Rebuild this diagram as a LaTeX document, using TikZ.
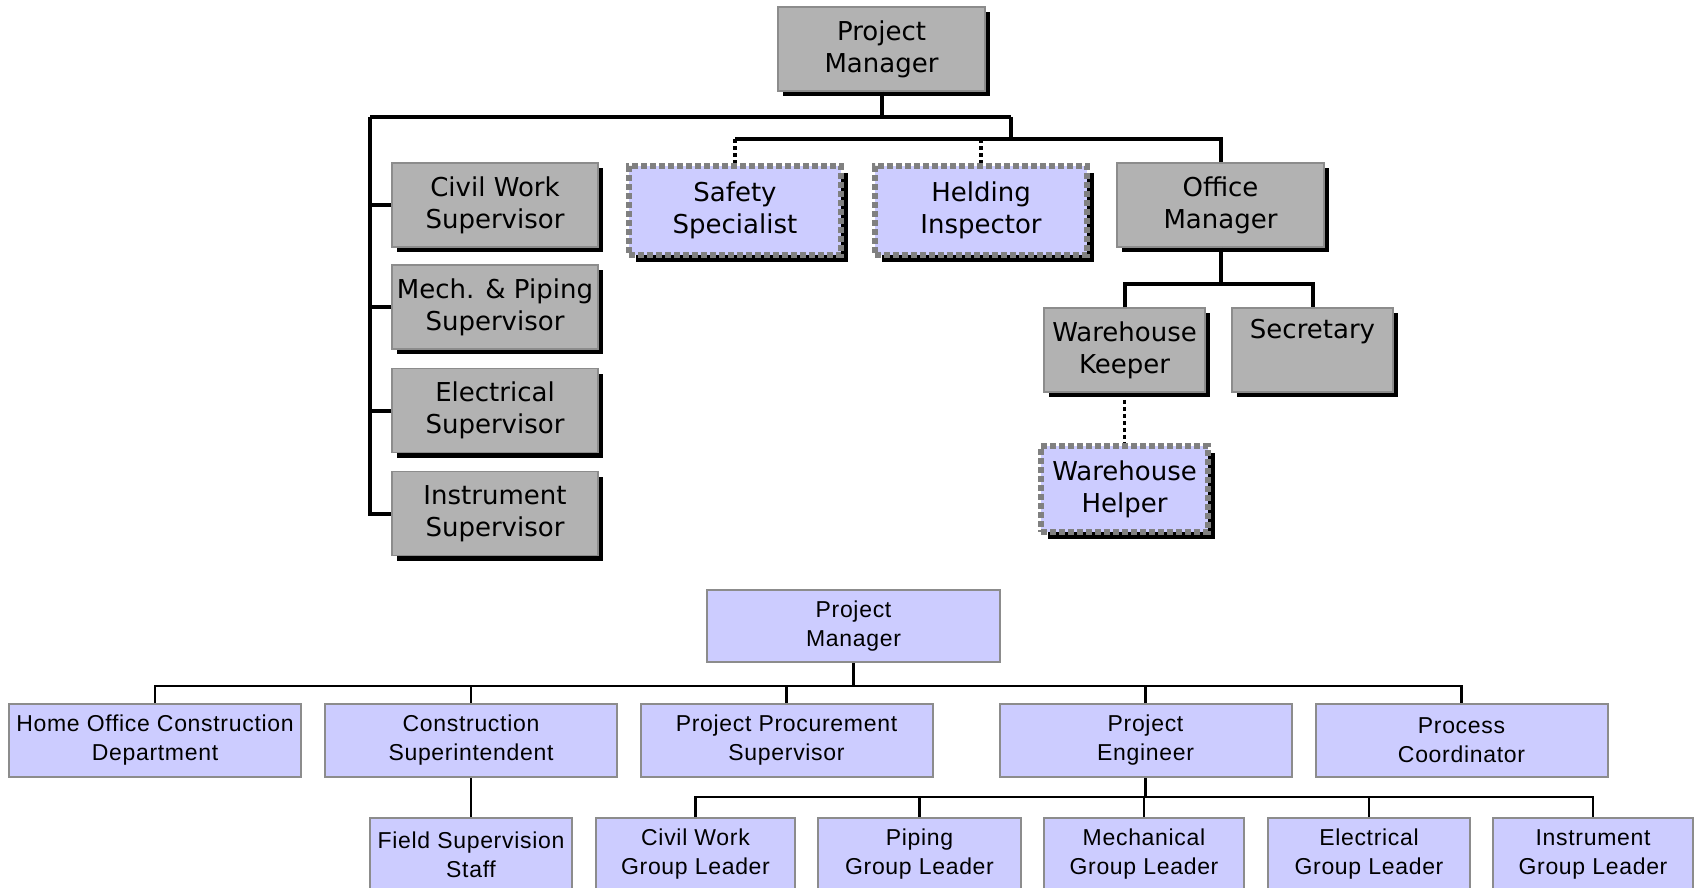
\documentclass[tikz,border=0pt]{standalone}
\usepackage{fontspec}
\setmainfont{DejaVu Sans}
\newfontfamily\lib[LetterSpace=3]{Liberation Sans}
\usetikzlibrary{shadows}
\definecolor{boxgray}{RGB}{178,178,178}
\definecolor{edgegray}{RGB}{140,140,140}
\definecolor{lav}{RGB}{204,204,255}
\definecolor{dashgray}{RGB}{128,128,128}
\begin{document}
\begin{tikzpicture}[x=1pt,y=-1pt,
  topbox/.style={rectangle, inner sep=0pt, align=center,
    font=\fontsize{26}{32}\selectfont},
  gbox/.style={topbox, fill=boxgray, draw=edgegray, line width=1.5pt,
    minimum width=207pt, minimum height=84pt,
    drop shadow={shadow xshift=5pt, shadow yshift=-5pt, fill=black, opacity=1}},
  lbox/.style={topbox, fill=lav, draw=dashgray, line width=6pt,
    dash pattern=on 6pt off 3pt,
    preaction={draw=white, line width=9pt, solid},
    drop shadow={shadow xshift=7pt, shadow yshift=-7pt, fill=black, opacity=1}},
  conn/.style={line width=4pt, black},
  dotc/.style={line width=3.5pt, black, dash pattern=on 4pt off 3pt},
  bbox/.style={rectangle, fill=lav, draw=edgegray, line width=2pt,
    inner sep=0pt, align=center, minimum height=73pt,
    font=\lib\fontsize{23}{29}\selectfont},
  bconn/.style={line width=2.5pt, black}]
\useasboundingbox (0,0) rectangle (1696,888);
\clip (0,0) rectangle (1696,888);

% ---------- top chart ----------
\node[gbox] (pm) at (881.5,49) {Project\\Manager};
\node[gbox, minimum width=206pt] (civ) at (495,205) {Civil Work\\Supervisor};
\node[gbox, minimum width=206pt] (mech) at (495,307) {Mech. \& Piping\\Supervisor};
\node[gbox, minimum width=206pt] (elec) at (495,410.5) {Electrical\\Supervisor};
\node[gbox, minimum width=206pt] (ins) at (495,513.5) {Instrument\\Supervisor};
\node[lbox, minimum width=212pt, minimum height=89pt] (saf) at (735,210.5) {Safety\\Specialist};
\node[lbox, minimum width=212pt, minimum height=89pt] (hel) at (981,210.5) {Helding\\Inspector};
\node[gbox] (om) at (1220.5,205) {Office\\Manager};
\node[gbox, minimum width=161pt] (wk) at (1124.5,350) {Warehouse\\Keeper};
\node[gbox, minimum width=161pt] (sec) at (1312.5,350) {Secretary\\\strut};
\node[lbox, minimum width=167pt, minimum height=86pt] (wh) at (1124.5,489) {Warehouse\\Helper};

\coordinate (b1) at (881.5,117);
\coordinate (lt) at (370,117);
\coordinate (rt) at (1011,117);
\coordinate (r2) at (1011,139);
\coordinate (ob) at (1220.5,284);

\draw[conn] (pm.south) -- (b1);
\draw[conn] (lt) -- (rt);
\draw[conn] (lt) |- (ins.west);
\draw[conn] (civ.west) -- (civ.west -| lt);
\draw[conn] (mech.west) -- (mech.west -| lt);
\draw[conn] (elec.west) -- (elec.west -| lt);
\draw[conn] (rt) -- (r2);
\draw[conn] (saf.north |- r2) -| (om.north);
\draw[dotc] (saf.north |- r2) -- (saf.north);
\draw[dotc] (hel.north |- r2) -- (hel.north);
\draw[conn] (om.south) -- (ob);
\draw[conn] (wk.north) |- (ob) -| (sec.north);
\draw[dotc] (wk.south) -- (wh.north);

% ---------- bottom chart ----------
\node[bbox, minimum width=293pt, minimum height=72pt] (pm2) at (853.5,626) {Project\\Manager};
\node[bbox, minimum width=292pt] (home) at (155,740.5) {Home Office Construction\\Department};
\node[bbox, minimum width=292pt] (con) at (471,740.5) {Construction\\Superintendent};
\node[bbox, minimum width=292pt] (proc) at (786.5,740.5) {Project Procurement\\Supervisor};
\node[bbox, minimum width=292pt] (pe) at (1145.5,740.5) {Project\\Engineer};
\node[bbox, minimum width=292pt] (pc) at (1461.5,740.5) {Process\\Coordinator};

\node[bbox, minimum width=202pt] (field) at (471,854.5) {Field Supervision\\Staff};
\node[bbox, minimum width=199pt] (civg) at (695.5,854.5) {Civil Work\\Group Leader};
\node[bbox, minimum width=203pt] (pip) at (919.5,854.5) {Piping\\Group Leader};
\node[bbox, minimum width=200pt] (mec) at (1144,854.5) {Mechanical\\Group Leader};
\node[bbox, minimum width=202pt] (ele) at (1369,854.5) {Electrical\\Group Leader};
\node[bbox, minimum width=200pt] (inst) at (1593,854.5) {Instrument\\Group Leader};

\coordinate (bb) at (853.5,686);
\coordinate (pb) at (1145.5,797);

\draw[bconn] (pm2.south) -- (bb);
\draw[bconn] (home.north) |- (bb) -| (pc.north);
\draw[bconn] (con.north) -- (con.north |- bb);
\draw[bconn] (proc.north) -- (proc.north |- bb);
\draw[bconn] (pe.north) -- (pe.north |- bb);
\draw[bconn] (con.south) -- (field.north);
\draw[bconn] (pe.south) -- (pb);
\draw[bconn] (civg.north) |- (pb) -| (inst.north);
\draw[bconn] (pip.north) -- (pip.north |- pb);
\draw[bconn] (mec.north) -- (mec.north |- pb);
\draw[bconn] (ele.north) -- (ele.north |- pb);
\end{tikzpicture}
\end{document}
